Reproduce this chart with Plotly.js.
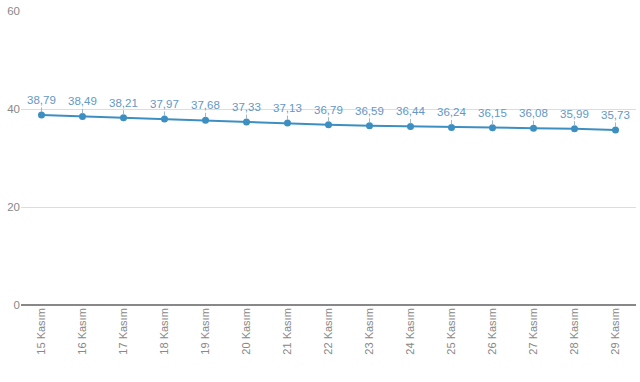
<!DOCTYPE html>
<html><head><meta charset="utf-8">
<script src="https://cdn.plot.ly/plotly-3.0.1.min.js"></script>
<style>html,body{margin:0;padding:0;background:#fff}#c{width:640px;height:382px}</style>
</head><body><div id="c"></div>
<script>
const categories = ["15 Kasım","16 Kasım","17 Kasım","18 Kasım","19 Kasım","20 Kasım","21 Kasım","22 Kasım","23 Kasım","24 Kasım","25 Kasım","26 Kasım","27 Kasım","28 Kasım","29 Kasım"];
const values = [38.79,38.49,38.21,37.97,37.68,37.33,37.13,36.79,36.59,36.44,36.24,36.15,36.08,35.99,35.73];
const yTicks = [0,20,40,60];

const fmt = v => v.toFixed(2).replace('.', ',');
const FONT = 'Liberation Sans, Arial, sans-serif';

const trace = {
  x: categories, y: values, type: 'scatter', mode: 'lines+markers',
  line: {color: '#3d8fc2', width: 2},
  marker: {color: '#3d8fc2', size: 7},
  hoverinfo: 'none'
};

const annotations = categories.map((c, i) => ({
  x: c, y: values[i], xref: 'x', yref: 'y',
  text: fmt(values[i]), showarrow: true, arrowhead: 0, arrowwidth: 1,
  arrowcolor: '#9bb8cf', ax: 0, ay: -15, standoff: 3,
  font: {family: FONT, size: 11.5, color: '#6497c6'}
}));

const layout = {
  width: 640, height: 382,
  margin: {l: 21, r: 4, t: 11, b: 77},
  paper_bgcolor: '#fff', plot_bgcolor: '#fff',
  showlegend: false,
  xaxis: {
    type: 'category', range: [-0.5, 14.5], tickangle: -90,
    showgrid: false, showline: false, ticks: '', zeroline: false,
    tickfont: {family: FONT, size: 11, color: '#888'}
  },
  yaxis: {
    range: [0, 60], tickvals: yTicks, ticktext: yTicks.map(String),
    showgrid: true, gridcolor: '#dddddd', gridwidth: 1,
    zeroline: true, zerolinecolor: '#888', zerolinewidth: 1.5,
    showline: false, ticks: '', ticklen: 0,
    tickfont: {family: FONT, size: 11.5, color: '#888'}
  },
  annotations: annotations
};

Plotly.newPlot('c', [trace], layout, {displayModeBar: false, staticPlot: true});
</script></body></html>
